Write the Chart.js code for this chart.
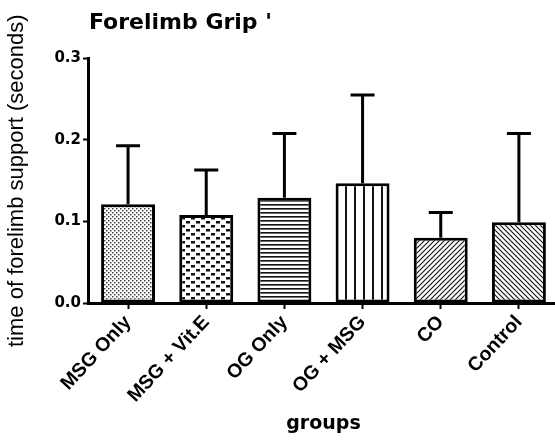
<!DOCTYPE html>
<html>
<head>
<meta charset="utf-8">
<script src="https://cdn.jsdelivr.net/npm/chart.js@4.4.1/dist/chart.umd.min.js"></script>
<style>
  html, body { margin: 0; padding: 0; background: #fff; overflow: hidden; }
  #wrap { width: 560px; height: 440px; }
</style>
</head>
<body>
<div id="wrap"><canvas id="c"></canvas></div>
<script>
// Group names, mean support time and standard deviation (seconds)
const categories = ['MSG Only', 'MSG + Vit.E', 'OG Only', 'OG + MSG', 'CO', 'Control'];
const means = [0.121, 0.108, 0.129, 0.147, 0.080, 0.099];
const sds = [0.072, 0.055, 0.079, 0.108, 0.031, 0.109];
const yTicks = [0.0, 0.1, 0.2, 0.3];

const SANS = "'Liberation Sans', Arial, Helvetica, sans-serif";
const WIDE = "'DejaVu Sans', Verdana, sans-serif";

// Small tiles used as hatch fills for each bar
function tile(w, h, draw) {
  const cv = document.createElement('canvas');
  cv.width = w; cv.height = h;
  const g = cv.getContext('2d');
  g.fillStyle = '#fff';
  g.fillRect(0, 0, w, h);
  g.fillStyle = '#111';
  g.strokeStyle = '#111';
  draw(g);
  return g.createPattern(cv, 'repeat');
}
const fills = [
  // fine stipple
  tile(4, 4, g => { g.fillStyle = '#444'; g.fillRect(0, 0, 1.5, 1.5); g.fillRect(2, 2, 1.5, 1.5); }),
  // coarse staggered dots
  tile(10, 8, g => { g.fillRect(1, 1, 4, 2.5); g.fillRect(6, 5, 4, 2.5); }),
  // horizontal lines
  tile(4, 4, g => { g.fillRect(0, 0, 4, 1.6); }),
  // vertical lines
  tile(9, 4, g => { g.fillRect(3, 0, 2, 4); }),
  // forward diagonal
  tile(5, 5, g => {
    g.lineWidth = 1.1;
    g.beginPath();
    g.moveTo(-1, 6); g.lineTo(6, -1);
    g.moveTo(-1, 1); g.lineTo(1, -1);
    g.moveTo(4, 6); g.lineTo(6, 4);
    g.stroke();
  }),
  // back diagonal
  tile(5, 5, g => {
    g.lineWidth = 1.1;
    g.beginPath();
    g.moveTo(-1, -1); g.lineTo(6, 6);
    g.moveTo(4, -1); g.lineTo(6, 1);
    g.moveTo(-1, 4); g.lineTo(1, 6);
    g.stroke();
  })
];

// Upper error whiskers (mean + SD) drawn on top of the bars
const errorBars = {
  id: 'errorBars',
  afterDatasetsDraw(chart) {
    const ctx = chart.ctx;
    const y = chart.scales.y;
    const meta = chart.getDatasetMeta(0);
    ctx.save();
    ctx.strokeStyle = '#000';
    ctx.lineWidth = 3;
    ctx.lineCap = 'butt';
    meta.data.forEach((bar, i) => {
      const top = y.getPixelForValue(means[i] + sds[i]);
      const base = y.getPixelForValue(means[i]);
      ctx.beginPath();
      ctx.moveTo(bar.x, base);
      ctx.lineTo(bar.x, top);
      ctx.moveTo(bar.x - 12, top);
      ctx.lineTo(bar.x + 12, top);
      ctx.stroke();
    });
    ctx.restore();
  }
};

new Chart(document.getElementById('c'), {
  type: 'bar',
  data: {
    labels: categories,
    datasets: [{
      data: means,
      backgroundColor: fills,
      borderColor: '#000',
      borderWidth: 3,
      borderSkipped: false,
      barPercentage: 0.69,
      categoryPercentage: 1.0
    }]
  },
  options: {
    responsive: true,
    maintainAspectRatio: false,
    animation: false,
    devicePixelRatio: 1,
    layout: { padding: { left: 4, right: 2, top: 0, bottom: 0 } },
    plugins: {
      legend: { display: false },
      tooltip: { enabled: false },
      title: {
        display: true,
        text: "Forelimb Grip '",
        align: 'start',
        fullSize: false,
        color: '#000',
        font: { family: WIDE, size: 22, weight: 'bold' },
        padding: { top: 10, bottom: 22 }
      }
    },
    scales: {
      x: {
        offset: true,
        afterFit(scale) { scale.height = 137; },
        grid: {
          display: true,
          offset: false,
          drawOnChartArea: false,
          drawTicks: true,
          tickLength: 6,
          tickWidth: 2,
          tickColor: '#000'
        },
        border: { display: true, color: '#000', width: 3 },
        ticks: {
          color: '#000',
          minRotation: 47,
          maxRotation: 47,
          padding: 2,
          font: { family: SANS, size: 19.5, weight: 'bold' }
        },
        title: {
          display: true,
          text: 'groups',
          color: '#000',
          font: { family: WIDE, size: 19, weight: 'bold' },
          padding: { top: 0, bottom: 5 }
        }
      },
      y: {
        min: 0,
        max: 0.3,
        afterBuildTicks(axis) { axis.ticks = yTicks.map(v => ({ value: v })); },
        grid: {
          display: true,
          drawOnChartArea: false,
          drawTicks: true,
          tickLength: 6,
          tickWidth: 2,
          tickColor: '#000'
        },
        border: { display: true, color: '#000', width: 3 },
        ticks: {
          color: '#000',
          padding: 2,
          font: { family: WIDE, size: 15, weight: 'bold' },
          callback: v => Number(v).toFixed(1)
        },
        title: {
          display: true,
          text: 'time of forelimb support (seconds)',
          color: '#000',
          font: { family: SANS, size: 22 },
          padding: { top: 0, bottom: 22 }
        }
      }
    }
  },
  plugins: [errorBars]
});
</script>
</body>
</html>
